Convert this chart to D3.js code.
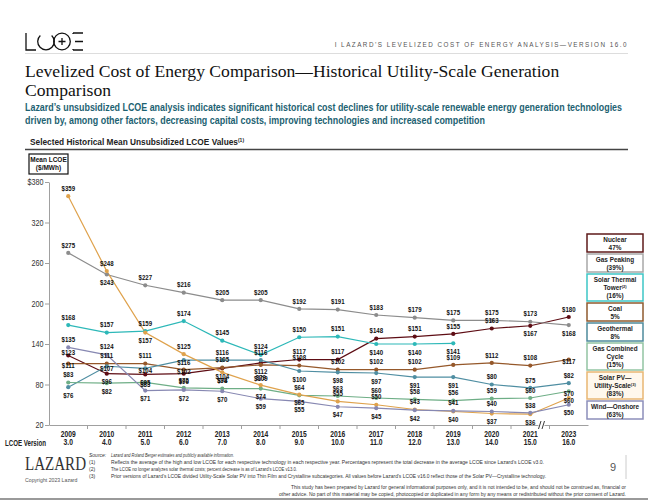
<!DOCTYPE html>
<html>
<head>
<meta charset="utf-8">
<script src="https://cdn.jsdelivr.net/npm/d3@7"></script>
<style>
  body { margin: 0; background: #fff; }
  svg { display: block; font-family: "Liberation Sans Narrow", "Liberation Sans", Arial, sans-serif; }
  .lbl { font-size: 7.6px; font-weight: bold; fill: #111; }
  .leg { font-size: 6.4px; font-weight: bold; fill: #222; }
  .note { font-size: 5px; fill: #333; }
</style>
</head>
<body>
<div id="chart"></div>
<script>

// ---- data ----
var years    = ["2009","2010","2011","2012","2013","2014","2015","2016","2017","2018","2019","2020","2021","2023"];
var versions = ["3.0","4.0","5.0","6.0","7.0","8.0","9.0","10.0","11.0","12.0","13.0","14.0","15.0","16.0"];
var yTicks   = [20, 80, 140, 200, 260, 320, 380];

var nuclear      = [123, 96, 95, 96, 104, 112, 117, 117, 148, 151, 155, 163, 167, 180];
var gasPeaking   = [275, 243, 227, 216, 205, 205, 192, 191, 183, 179, 175, 175, 173, 168];
var solarThermal = [168, 157, 159, 174, 145, 124, 150, 151, 140, 140, 141];
var coal         = [111, 111, 111, 102, 105, 109, 108, 102, 102, 102, 109, 112, 108, 117];
var geothermal   = [76, 107, 104, 116, 116, 116, 100, 98, 97, 91, 91, 80, 75, 82];
var gasCombined  = [83, 82, 83, 75, 74, 74, 64, 63, 60, 58, 56, 59, 60, 70];
var solarPV      = [359, 248, 157, 125, 98, 79, 65, 55, 50, 43, 40, 37, 36, 60];
var windOnshore  = [135, 124, 71, 72, 70, 59, 55, 47, 45, 42, 41, 40, 38, 50];

// legend text (^ marks a footnote superscript)
var legendText = [
  ["Nuclear", "47%"],
  ["Gas Peaking", "(39%)"],
  ["Solar Thermal", "Tower^(2)", "(16%)"],
  ["Coal", "5%"],
  ["Geothermal", "8%"],
  ["Gas Combined", "Cycle", "(15%)"],
  ["Solar PV\u2014", "Utility-Scale^(3)", "(83%)"],
  ["Wind\u2014Onshore", "(63%)"]
];

// series styling + which side of the point each value label sits
// a = above, b = below, c = on the point, d = just above, B = further below
var series = [
  {values: nuclear,      color: "#5e0d14", box: "#5e1a1a", sides: "dbbbbbaaaaaaba"},
  {values: gasPeaking,   color: "#8c8c8c", box: "#a8a8a8", sides: "abaaaaaaaaaaab"},
  {values: solarThermal, color: "#2db8b8", box: "#3cc6c6", sides: "aaaaaaaabbb"},
  {values: coal,         color: "#95582a", box: "#8f5a2e", sides: "caacaBaaaaaaac"},
  {values: geothermal,   color: "#4f8ea2", box: "#4e8b9c", sides: "bcccaabbbbbaaa"},
  {values: gasCombined,  color: "#6eae86", box: "#92c4a2", sides: "abcaabaaaaaaac"},
  {values: solarPV,      color: "#dfa24c", box: "#e9b773", sides: "aabababaaabbbc", fill: "#fff8ed"},
  {values: windOnshore,  color: "#8788b2", box: "#8c8eba", sides: "aabbbbbbbbaaab"}
];
var sideOffset = {a: -8, b: 8, c: 2, d: -3, B: 13};
var narrow = 0.8;   // the source uses a condensed face

var W = 648, H = 500;
var svg = d3.select("#chart").append("svg").attr("width", W).attr("height", H);

// ---- header ----
var logo = svg.append("g").attr("fill", "none").attr("stroke", "#111").attr("stroke-width", 1.3);
logo.append("path").attr("d", "M26,33 V50 H36");
logo.append("path").attr("d", d3.arc()({innerRadius: 8.3, outerRadius: 8.3, startAngle: 0.75, endAngle: 2 * Math.PI - 0.75}))
    .attr("transform", "translate(46,41.5)");
logo.append("circle").attr("cx", 62).attr("cy", 41.5).attr("r", 8.3);
logo.append("path").attr("d", "M62,38 V45 M58.5,41.5 H65.5");
logo.append("path").attr("d", "M73,33 H83 M75,41.5 H83 M73,50 H83 M73,33 V34 M73,50 V49");

svg.append("text").attr("x", 628).attr("y", 47).attr("text-anchor", "end")
  .style("font-size", "6.3px").style("letter-spacing", "1.5px").attr("fill", "#555")
  .text("I   LAZARD\u2019S LEVELIZED COST OF ENERGY ANALYSIS\u2014VERSION 16.0");
svg.append("line").attr("x1", 25).attr("x2", 628).attr("y1", 53.5).attr("y2", 53.5)
  .attr("stroke", "#ddd").attr("stroke-width", 1);

var title = svg.append("text").style("font-family", "Liberation Serif, Times New Roman, serif")
  .style("font-size", "17.6px").attr("fill", "#111");
title.append("tspan").attr("x", 25).attr("y", 77).text("Levelized Cost of Energy Comparison\u2014Historical Utility-Scale Generation");
title.append("tspan").attr("x", 25).attr("y", 96).text("Comparison");

var sub = svg.append("text").style("font-size", "10px").style("font-weight", "bold").attr("fill", "#1d6272");
sub.append("tspan").attr("x", 25).attr("y", 111).attr("textLength", 597).attr("lengthAdjust", "spacingAndGlyphs")
  .text("Lazard\u2019s unsubsidized LCOE analysis indicates significant historical cost declines for utility-scale renewable energy generation technologies");
sub.append("tspan").attr("x", 25).attr("y", 123.5).attr("textLength", 460).attr("lengthAdjust", "spacingAndGlyphs")
  .text("driven by, among other factors, decreasing capital costs, improving technologies and increased competition");

var sh = svg.append("text").attr("x", 30).attr("y", 145).style("font-size", "8.3px").style("font-weight", "bold").attr("fill", "#222");
sh.append("tspan").text("Selected Historical Mean Unsubsidized LCOE Values");
sh.append("tspan").attr("dy", -3).style("font-size", "5px").text("(1)");
svg.append("line").attr("x1", 25).attr("x2", 628).attr("y1", 149.5).attr("y2", 149.5)
  .attr("stroke", "#444").attr("stroke-width", 1.6);

// ---- scales ----
var x = d3.scaleBand().domain(years).range([49, 588]);
var y = d3.scaleLinear().domain([20, 380]).range([425, 182]);
var cx = function(i) { return x(years[i]) + x.bandwidth() / 2; };

// y axis
var yAxis = svg.append("g").attr("transform", "translate(49,0)")
  .call(d3.axisLeft(y).tickValues(yTicks).tickSize(4).tickSizeOuter(0)
    .tickFormat(function(d) { return d === 380 ? "$380" : d; }));
yAxis.select(".domain").attr("stroke", "#a0a0a0");
yAxis.selectAll(".tick line").attr("stroke", "#a0a0a0");
yAxis.selectAll(".tick text").style("font-size", "9px").style("font-family", "Liberation Sans, Arial, sans-serif")
  .attr("fill", "#333").attr("x", -7).attr("transform", "scale(" + narrow + ",1)");

// x axis: line, ticks at band boundaries, two-line labels
var xAxis = svg.append("g").attr("transform", "translate(0,425)")
  .call(d3.axisBottom(x).tickSize(0).tickFormat(""));
xAxis.select(".domain").attr("stroke", "#a0a0a0");
svg.append("g").selectAll("line").data(years.slice(1)).join("line")
  .attr("x1", function(d) { return x(d); }).attr("x2", function(d) { return x(d); })
  .attr("y1", 425).attr("y2", 429).attr("stroke", "#a0a0a0");
var xl = svg.append("g").selectAll("text").data(years).join("text")
  .attr("transform", function(d, i) { return "translate(" + cx(i) + ",0) scale(" + narrow + ",1)"; })
  .attr("text-anchor", "middle").style("font-size", "8.4px").style("font-weight", "bold").attr("fill", "#222");
xl.append("tspan").attr("x", 0).attr("y", 437).text(function(d) { return d; });
xl.append("tspan").attr("x", 0).attr("y", 445.5).text(function(d, i) { return versions[i]; });
svg.append("text").attr("x", 5).attr("y", 445.5).style("font-size", "8.4px").style("font-weight", "bold")
  .attr("textLength", 41).attr("lengthAdjust", "spacingAndGlyphs")
  .attr("fill", "#222").text("LCOE Version");

// axis break between 2021 and 2023
var bx = x("2023") - 8;
svg.append("rect").attr("x", bx - 3).attr("y", 422).attr("width", 6).attr("height", 6).attr("fill", "#fff");
svg.append("path").attr("d", "M" + (bx - 3) + ",429 L" + (bx - 0.5) + ",421 M" + (bx + 0.5) + ",429 L" + (bx + 3) + ",421")
  .attr("stroke", "#222").attr("stroke-width", 0.9).attr("fill", "none");

// y unit box
svg.append("rect").attr("x", 29).attr("y", 154).attr("width", 39).attr("height", 20)
  .attr("fill", "#fff").attr("stroke", "#111").attr("stroke-width", 1.2);
var ub = svg.append("text").attr("text-anchor", "middle").style("font-size", "6.5px").style("font-weight", "bold").attr("fill", "#111");
ub.append("tspan").attr("x", 48.5).attr("y", 162).text("Mean LCOE");
ub.append("tspan").attr("x", 48.5).attr("y", 170).text("($/MWh)");

// ---- series ----
var line = d3.line().x(function(d, i) { return cx(i); }).y(function(d) { return y(d); });
series.forEach(function(s) {
  svg.append("path").datum(s.values).attr("d", line)
    .attr("fill", "none").attr("stroke", s.color).attr("stroke-width", 1.2);
});
series.forEach(function(s) {
  svg.append("g").selectAll("circle").data(s.values).join("circle")
    .attr("cx", function(d, i) { return cx(i); }).attr("cy", function(d) { return y(d); })
    .attr("r", 2.1).attr("fill", s.color);
});
series.forEach(function(s) {
  svg.append("g").selectAll("text").data(s.values).join("text").attr("class", "lbl")
    .attr("text-anchor", "middle").attr("dy", "0.35em")
    .attr("transform", function(d, i) {
      return "translate(" + cx(i) + "," + (y(d) + sideOffset[s.sides[i]]) + ") scale(" + narrow + ",1)";
    })
    .text(function(d) { return "$" + d; });
});

// ---- legend boxes ----
var ly = 234;
legendText.forEach(function(lines, k) {
  var s = series[k];
  var h = lines.length === 3 ? 27 : 18;
  svg.append("rect").attr("x", 587).attr("y", ly).attr("width", 56).attr("height", h)
    .attr("fill", s.fill || "#fff").attr("stroke", s.box).attr("stroke-width", 1.5);
  var t = svg.append("text").attr("class", "leg").attr("text-anchor", "middle");
  lines.forEach(function(str, j) {
    var parts = str.split("^");
    t.append("tspan").attr("x", 615).attr("y", ly + 8 + j * 7.8).text(parts[0]);
    if (parts[1]) t.append("tspan").attr("dy", -2).style("font-size", "4px").text(parts[1]);
  });
  ly += h + 2;
});

// ---- footer ----
svg.append("text").attr("x", 25).attr("y", 470).attr("textLength", 61).attr("lengthAdjust", "spacingAndGlyphs")
  .style("font-family", "Liberation Serif, Times New Roman, serif").style("font-size", "18px").attr("fill", "#333")
  .text("LAZARD");
svg.append("text").attr("x", 25).attr("y", 482).style("font-size", "5.2px").attr("fill", "#555")
  .style("font-family", "Liberation Sans, Arial, sans-serif").text("Copyright 2023 Lazard");

var notes = [
  ["Source:", "Lazard and Roland Berger estimates and publicly available information.", 123, true],
  ["(1)", "Reflects the average of the high and low LCOE for each respective technology in each respective year. Percentages represent the total decrease in the average LCOE since Lazard\u2019s LCOE v3.0.", 433],
  ["(2)", "The LCOE no longer analyzes solar thermal costs; percent decrease is as of Lazard\u2019s LCOE v13.0.", 186],
  ["(3)", "Prior versions of Lazard\u2019s LCOE divided Utility-Scale Solar PV into Thin Film and Crystalline subcategories. All values before Lazard\u2019s LCOE v16.0 reflect those of the Solar PV\u2014Crystalline technology.", 435]
];
notes.forEach(function(n, k) {
  var yy = 457 + k * 7;
  svg.append("text").attr("class", "note").attr("x", 89).attr("y", yy)
    .style("font-style", k === 0 ? "italic" : "normal").text(n[0]);
  svg.append("text").attr("class", "note").attr("x", 111).attr("y", yy)
    .attr("textLength", n[2]).attr("lengthAdjust", "spacingAndGlyphs")
    .style("font-style", n[3] ? "italic" : "normal").text(n[1]);
});
svg.append("text").attr("class", "note").attr("x", 626).attr("y", 489).attr("text-anchor", "end")
  .attr("textLength", 335).attr("lengthAdjust", "spacingAndGlyphs")
  .text("This study has been prepared by Lazard for general informational purposes only, and it is not intended to be, and should not be construed as, financial or");
svg.append("text").attr("class", "note").attr("x", 626).attr("y", 496).attr("text-anchor", "end")
  .attr("textLength", 347).attr("lengthAdjust", "spacingAndGlyphs")
  .text("other advice. No part of this material may be copied, photocopied or duplicated in any form by any means or redistributed without the prior consent of Lazard.");

svg.append("text").attr("x", 613).attr("y", 471).attr("text-anchor", "middle").style("font-size", "11px")
  .style("font-family", "Liberation Sans, Arial, sans-serif").attr("fill", "#555").text("9");
svg.append("line").attr("x1", 626).attr("x2", 626).attr("y1", 455).attr("y2", 479).attr("stroke", "#ccc");
svg.append("rect").attr("x", 0).attr("y", 498).attr("width", W).attr("height", 2).attr("fill", "#9a9a9a");

</script>
</body>
</html>
